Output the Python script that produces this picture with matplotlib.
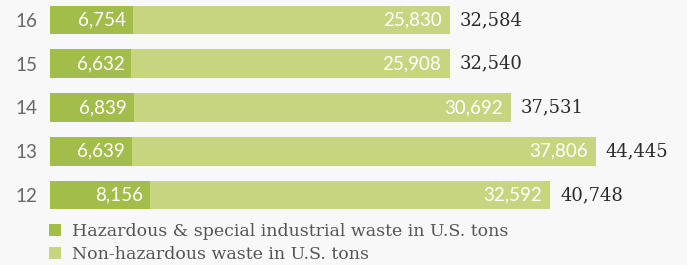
import matplotlib.pyplot as plt

years = ["12", "13", "14", "15", "16"]
hazardous = [8156, 6639, 6839, 6632, 6754]
non_hazardous = [32592, 37806, 30692, 25908, 25830]
totals = [40748, 44445, 37531, 32540, 32584]

dark = "#a3bd4a"
light = "#c8d580"
bg = "#f9f8f8"

fig = plt.figure(figsize=(6.87, 2.65), dpi=100, facecolor=bg)
ax = fig.add_axes([50 / 687, 0, 637 / 687, 1])
ax.set_facecolor(bg)

pos = list(range(len(years)))
ax.barh(pos, hazardous, height=0.66, color=dark, label="Hazardous & special industrial waste in U.S. tons")
ax.barh(pos, non_hazardous, left=hazardous, height=0.66, color=light, label="Non-hazardous waste in U.S. tons")

for i in pos:
    ax.annotate(f"{hazardous[i]:,}", (hazardous[i], i), xytext=(-5, 0), textcoords="offset points",
                ha="right", va="center", color="white", fontsize=13.5, family="Lato")
    ax.annotate(f"{non_hazardous[i]:,}", (totals[i], i), xytext=(-6, 0), textcoords="offset points",
                ha="right", va="center", color="white", fontsize=13.5, family="Lato")
    ax.annotate(f"{totals[i]:,}", (totals[i], i), xytext=(7, 0), textcoords="offset points",
                ha="left", va="center", color="#2b2b2b", fontsize=13, family="DejaVu Serif")

ax.set_xlim(0, 637 / 0.01228)
ax.set_ylim(-70 / 43.75, 195 / 43.75)
ax.set_yticks(pos)
ax.set_yticklabels(years, fontsize=13.5, color="#666666", family="Lato")
ax.tick_params(axis="y", length=0, pad=9)
ax.set_xticks([])
for s in ax.spines.values():
    s.set_visible(False)

leg = ax.legend(loc="upper left", bbox_to_anchor=(-0.002, 42 / 265), frameon=False,
                prop={"family": "DejaVu Serif", "size": 12.5}, handlelength=0.72, handleheight=0.72,
                handletextpad=0.6, labelspacing=0.36, borderpad=0, borderaxespad=0, labelcolor="#555555")

fig.savefig("out.png", dpi=100, facecolor=bg)
